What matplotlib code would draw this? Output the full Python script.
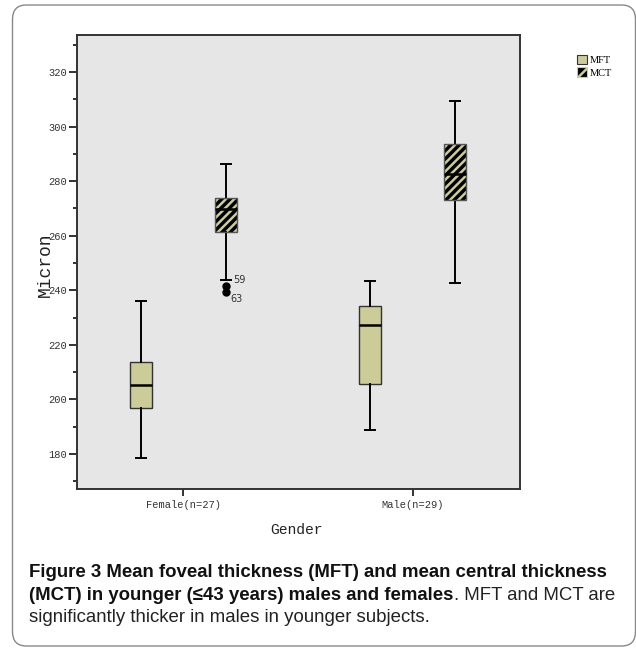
import matplotlib
matplotlib.use("Agg")
import matplotlib.pyplot as plt
from matplotlib.patches import Patch, PathPatch, FancyBboxPatch
from matplotlib.ticker import MultipleLocator

# data
groups = ["Female(n=27)", "Male(n=29)"]
series = ["MFT", "MCT"]
mft_whislo = [178.6, 188.6]
mft_q1 = [196.8, 205.5]
mft_med = [205.4, 227.4]
mft_q3 = [213.8, 234.3]
mft_whishi = [236.2, 243.3]
mct_whislo = [243.6, 242.5]
mct_q1 = [261.5, 273.1]
mct_med = [269.7, 282.7]
mct_q3 = [273.8, 293.5]
mct_whishi = [286.3, 309.3]
mct_fliers = [[241.6, 239.2], []]
flier_ids = [["59", "63"], []]

khaki = "#cccc99"
plt.rcParams["hatch.linewidth"] = 1.8

fig = plt.figure(figsize=(6.36, 6.49), dpi=100)
ax = fig.add_axes([0.1206, 0.2465, 0.697, 0.7])
ax.set_facecolor("#e6e6e6")

def stats(lo, q1, med, q3, hi, fl=None):
    out = []
    for i in range(len(lo)):
        out.append({"whislo": lo[i], "q1": q1[i], "med": med[i], "q3": q3[i],
                    "whishi": hi[i], "fliers": fl[i] if fl else []})
    return out

off = 0.186
w = 0.095
common = dict(widths=w, capwidths=w * 0.45, patch_artist=True,
              whiskerprops=dict(color="black", lw=1.4),
              capprops=dict(color="black", lw=1.4),
              medianprops=dict(color="black", lw=1.8),
              flierprops=dict(marker="o", markerfacecolor="black",
                              markeredgecolor="black", markersize=5))

b1 = ax.bxp(stats(mft_whislo, mft_q1, mft_med, mft_q3, mft_whishi),
            positions=[1 - off, 2 - off],
            boxprops=dict(facecolor=khaki, edgecolor="#333333", lw=1.0), **common)
b2 = ax.bxp(stats(mct_whislo, mct_q1, mct_med, mct_q3, mct_whishi, mct_fliers),
            positions=[1 + off, 2 + off],
            boxprops=dict(facecolor="black", edgecolor=khaki, lw=0, hatch="////"), **common)
for box in b2["boxes"]:
    ax.add_patch(PathPatch(box.get_path(), fill=False, edgecolor="#555555", lw=1.0, zorder=box.get_zorder() + 0.1))
for med in b2["medians"]:
    med.set_zorder(3)

# outlier case numbers
for i, vals in enumerate(mct_fliers):
    for j, v in enumerate(vals):
        dy = 4 if j == 0 else -5
        ax.annotate(flier_ids[i][j], (i + 1 + off, v), xytext=(5 if j == 0 else 3, dy),
                    textcoords="offset points", fontsize=7, color="#333333",
                    va="center", ha="left")

ax.set_xlim(0.535, 2.468)
ax.set_ylim(167.1, 333.7)
ax.set_xticks([1, 2])
ax.set_xticklabels(groups, family="Liberation Mono", fontsize=7.5, color="#333333")
ax.yaxis.set_major_locator(MultipleLocator(20))
ax.yaxis.set_minor_locator(MultipleLocator(10))
for lab in ax.get_yticklabels():
    lab.set_family("Liberation Mono")
    lab.set_fontsize(7.5)
    lab.set_color("#333333")
ax.tick_params(axis="y", which="major", length=6, width=1.3, pad=1, color="#222222")
ax.tick_params(axis="y", which="minor", length=3, width=1.3, color="#222222")
ax.tick_params(axis="x", length=5, width=1.3, pad=3, color="#222222")
for s in ax.spines.values():
    s.set_linewidth(1.4)
    s.set_color("#333333")

ax.set_ylabel("Micron", family="Liberation Mono", fontsize=13, color="#222222", va="center")
ax.yaxis.set_label_coords(-0.0716, 0.493)
ax.set_xlabel("Gender", family="Liberation Mono", fontsize=10.5, color="#222222", va="center")
ax.xaxis.set_label_coords(0.495, -0.09)

handles = [Patch(facecolor=khaki, edgecolor="#333333", lw=0.8),
           Patch(facecolor="black", edgecolor=khaki, hatch="///", lw=0.8)]
fig.legend(handles, series, loc="upper left", bbox_to_anchor=(0.907, 0.916),
           frameon=False, prop={"family": "Liberation Serif", "size": 7.5},
           handlelength=1.0, handleheight=1.0, handletextpad=0.2,
           labelspacing=0.25, borderpad=0, borderaxespad=0)

# caption
fam = ["Liberation Sans", "DejaVu Sans"]
x0 = 29.5 / 636
r = fig.canvas.get_renderer()
t1 = fig.text(x0, 1 - 577 / 649, "Figure 3 Mean foveal thickness (MFT) and mean central thickness",
              family=fam, fontsize=12, weight="bold", va="baseline", color="#111111")
fs = 12 * 578 / t1.get_window_extent(r).width
t1.set_fontsize(fs)
t2 = fig.text(x0, 1 - 600 / 649, "(MCT) in younger (\u226443 years) males and females",
              family=fam, fontsize=fs, weight="bold", va="baseline", color="#111111")
bb = t2.get_window_extent(r)
fig.text(bb.x1 / fig.bbox.width, 1 - 600 / 649, ". MFT and MCT are",
         family=fam, fontsize=fs, va="baseline", color="#222222")
fig.text(x0, 1 - 622 / 649, "significantly thicker in males in younger subjects.",
         family=fam, fontsize=fs, va="baseline", color="#222222")

frame = FancyBboxPatch((12.5 / 636, 3 / 649), 623 / 636, 641 / 649,
                       boxstyle="round,pad=0,rounding_size=0.022",
                       transform=fig.transFigure, fill=False, edgecolor="#888888", lw=1.0)
fig.patches.append(frame)

fig.savefig("out.png", dpi=100)
